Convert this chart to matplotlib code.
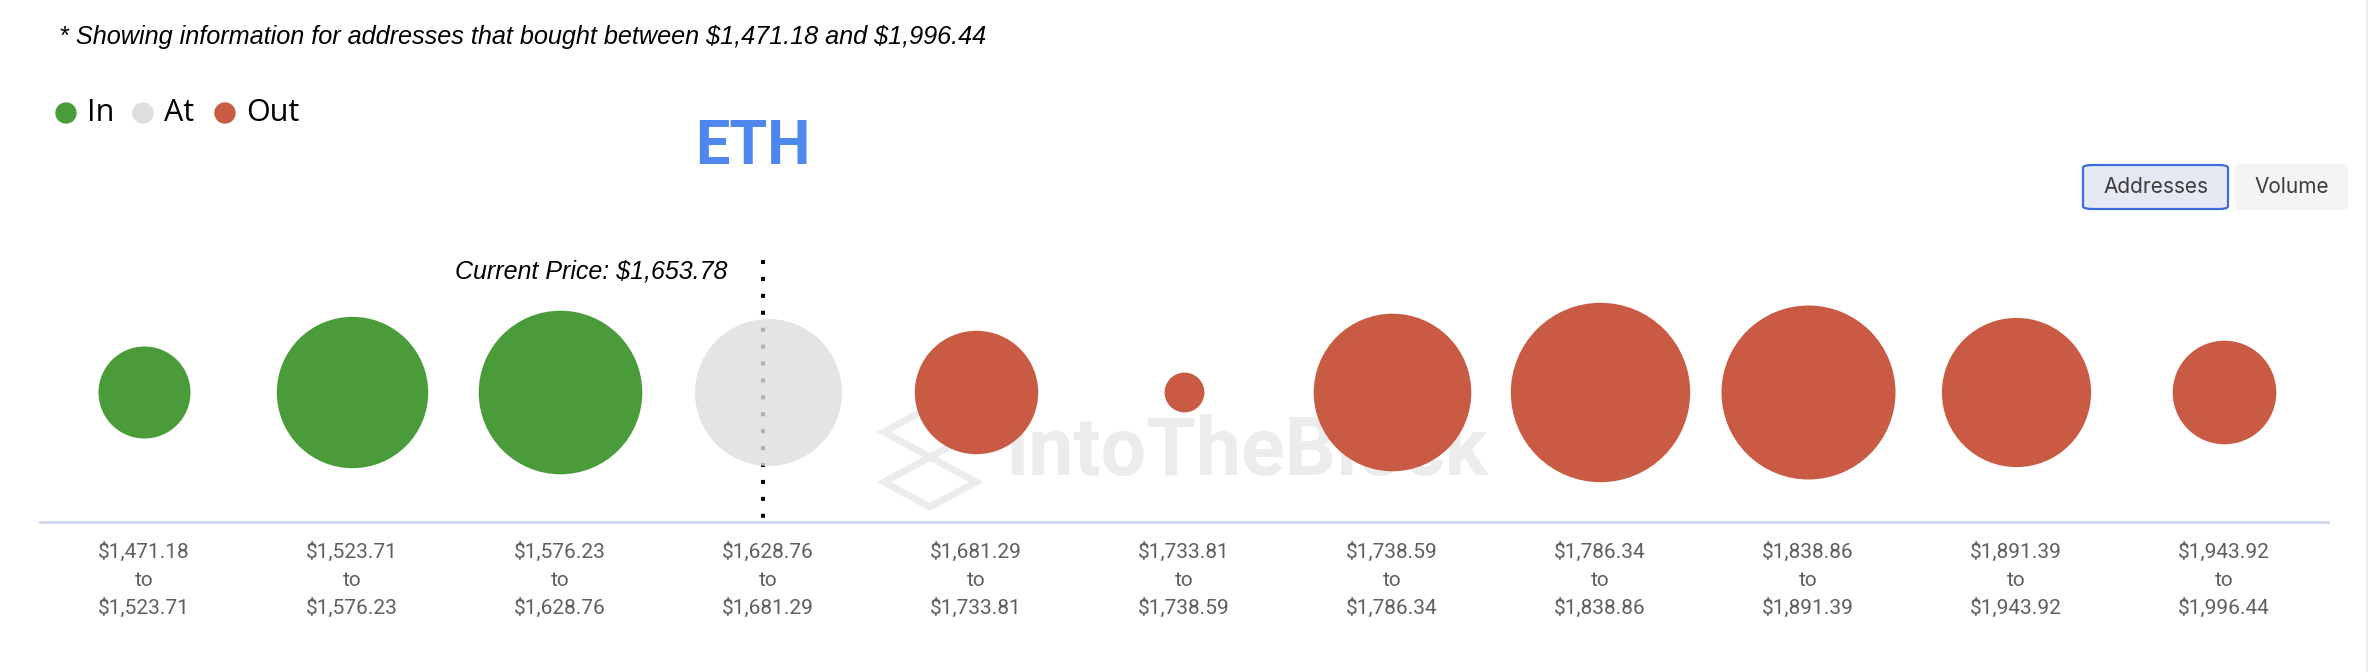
import matplotlib
matplotlib.use("Agg")
import matplotlib.pyplot as plt
from matplotlib.patches import FancyBboxPatch, Polygon, Ellipse
from matplotlib.lines import Line2D
import numpy as np

# ---------------- data ----------------
bin_low = [1471.18, 1523.71, 1576.23, 1628.76, 1681.29, 1733.81, 1738.59, 1786.34, 1838.86, 1891.39, 1943.92]
bin_high = [1523.71, 1576.23, 1628.76, 1681.29, 1733.81, 1738.59, 1786.34, 1838.86, 1891.39, 1943.92, 1996.44]
addresses = [211600, 573000, 669100, 540200, 380700, 39600, 620900, 804600, 756900, 556500, 268300]
status = ["In", "In", "In", "At", "Out", "Out", "Out", "Out", "Out", "Out", "Out"]
current_price = 1653.78
range_low, range_high = 1471.18, 1996.44

colors = {"In": "#4a9c3b", "At": "#dedede", "Out": "#c95a43"}

W, H = 2370, 672
DPI = 100
fig = plt.figure(figsize=(W / DPI, H / DPI), dpi=DPI)
fig.patch.set_facecolor("white")

FONT = "Roboto"
LABEL_FONT = "Inter"
ITALIC_FONT = "Liberation Sans"
LEGEND_FONT = "Open Sans"

def fx(x):
    return x / W

def fy(y):
    return 1 - y / H

# main axes spanning the figure: x in category units, y in pixel rows (top=0)
ax = fig.add_axes([0, 0, 1, 1])
x0_px, step_px = 144, 208
ax.set_xlim(-x0_px / step_px, (W - x0_px) / step_px)
ax.set_ylim(H, 0)
ax.axis("off")

n = len(addresses)
xs = np.arange(n)
cy = 392

# watermark (behind bubbles)
ax.text(fx(1005), fy(453), "IntoTheBlock", transform=fig.transFigure, fontsize=58,
        fontweight="bold", color="#ececec", ha="left", va="center", family=FONT, zorder=0)
lx, ly = 930, 457
logo = [
    [(lx - 46, ly - 25), (lx, ly - 50), (lx + 46, ly - 25), (lx, ly)],
    [(lx - 46, ly + 25), (lx, ly), (lx + 46, ly + 25), (lx, ly + 50)],
]
for pts in logo:
    ax.add_patch(Polygon([(fx(a), fy(b)) for a, b in pts], closed=True, fill=False,
                         edgecolor="#ececec", linewidth=5, transform=fig.transFigure, zorder=0))

# current price dotted line
i_cur = next(i for i in range(n) if bin_low[i] <= current_price < bin_high[i])
x_cur = i_cur + (current_price - bin_low[i_cur]) / (bin_high[i_cur] - bin_low[i_cur]) - 0.5
ax.plot([x_cur, x_cur], [260, 519], color="black", linewidth=2.9,
        linestyle=(0, (1, 3.2)), solid_capstyle="butt", dash_capstyle="butt", zorder=1)

# bubbles
r_max_px = 89.7
s_max = (2 * r_max_px * 72 / DPI) ** 2
sizes = [a / max(addresses) * s_max for a in addresses]
for i in range(n):
    st = status[i]
    ax.scatter([xs[i]], [cy], s=[sizes[i]], color=colors[st], linewidths=0,
               alpha=0.8 if st == "At" else 1.0, zorder=2)

# baseline
ax.plot([fx(40), fx(2328)], [fy(522), fy(522)], color="#cdd6ec", linewidth=2,
        transform=fig.transFigure, zorder=1)

# tick labels
for i in range(n):
    for txt, yy in ((f"${bin_low[i]:,.2f}", 552), ("to", 580), (f"${bin_high[i]:,.2f}", 608)):
        ax.text(xs[i], yy, txt, ha="center", va="center", fontsize=15, color="#5f5f5f",
                family=FONT, parse_math=False)

# header text
fig.text(fx(59), fy(37), f"* Showing information for addresses that bought between ${range_low:,.2f} and ${range_high:,.2f}",
         fontsize=18.2, style="italic", color="black", ha="left", va="center", family=ITALIC_FONT,
         parse_math=False)

# legend
leg_items = [("In", 66, 87), ("At", 143, 164), ("Out", 225, 246)]
for lab, dx, tx in leg_items:
    fig.patches.append(Ellipse((fx(dx), fy(113)), 20 / W, 20 / H,
                               transform=fig.transFigure, color=colors[lab]))
    fig.text(fx(tx), fy(113), lab, fontsize=22, color="black", ha="left", va="center",
             family=LEGEND_FONT)

# ETH title
fig.text(fx(753), fy(147), "ETH", fontsize=44, fontweight="bold", color="#4f87f0",
         ha="center", va="center", family=FONT)

# current price label
x_cur_px = x0_px + step_px * x_cur
fig.text(fx(x_cur_px - 36), fy(271), f"Current Price: ${current_price:,.2f}", fontsize=18,
         style="italic", color="black", ha="right", va="center", family=ITALIC_FONT,
         parse_math=False)

# buttons
def button(x1, y1, x2, y2, label, face, edge):
    p = FancyBboxPatch((fx(x1), fy(y2)), fx(x2 - x1), (y2 - y1) / H,
                       boxstyle="round,pad=0,rounding_size=0.004", transform=fig.transFigure,
                       facecolor=face, edgecolor=edge if edge else face,
                       linewidth=1.6 if edge else 0)
    fig.patches.append(p)
    fig.text(fx((x1 + x2) / 2), fy((y1 + y2) / 2), label, fontsize=15, color="#3c3c3c",
             ha="center", va="center", family=LABEL_FONT)

button(2083, 165, 2228, 209, "Addresses", "#e6e9f4", "#3b6ddb")
button(2235, 164, 2348, 210, "Volume", "#f4f4f4", None)

# right border
fig.lines.append(Line2D([fx(2367), fx(2367)], [0, 1], color="#ececf4",
                        linewidth=1.5, transform=fig.transFigure))

fig.savefig("out.png", dpi=DPI)
